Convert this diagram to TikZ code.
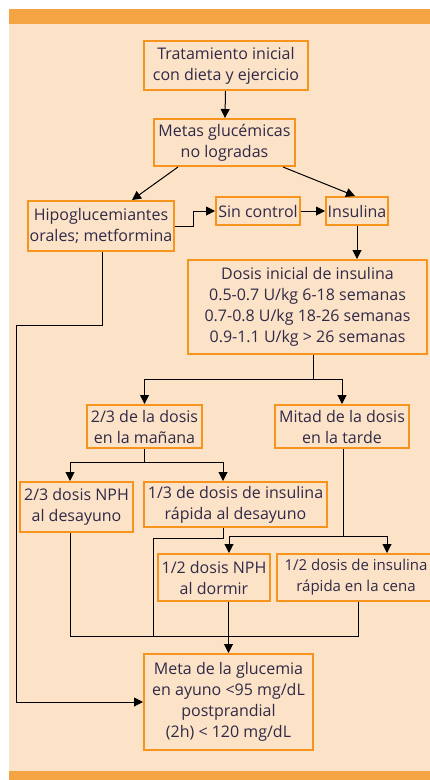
\documentclass[tikz,border=0pt]{standalone}
\usepackage{fontspec}
\setmainfont{Open Sans}
\usetikzlibrary{arrows.meta}
\definecolor{bandorange}{RGB}{245,164,67}
\definecolor{boxorange}{RGB}{247,148,29}
\definecolor{peach}{RGB}{252,227,200}
\definecolor{inktext}{RGB}{48,42,72}
\tikzstyle{stepbox} = [rectangle, draw=boxorange, line width=2pt, align=center, text=inktext, inner sep=0pt, font=\fontsize{16}{21}\selectfont]
\tikzstyle{arrow} = [line width=1pt, -{Triangle[width=9pt,length=9pt]}]
\tikzstyle{joint} = [line width=1pt]

\begin{document}
\begin{tikzpicture}[x=1pt, y=-1pt]
        % Background
        \useasboundingbox (0,0) rectangle (430,780);
        \fill[peach] (9,24) rectangle (430,771);
        \fill[bandorange] (9,9) rectangle (430,24);
        \fill[bandorange] (9,771) rectangle (430,780);

        % Nodes
        \node (trat) [stepbox, minimum width=164pt, minimum height=49pt] at (226,65.5) {Tratamiento inicial\\con dieta y ejercicio};
        \node (metas) [stepbox, minimum width=141pt, minimum height=47pt] at (224.5,142.5) {Metas glucémicas\\no logradas};
        \node (hipo) [stepbox, minimum width=146pt, minimum height=50pt] at (101,226) {Hipoglucemiantes\\orales; metformina};
        \node (sinc) [stepbox, minimum width=84pt, minimum height=28pt] at (258,211) {Sin control};
        \node (insul) [stepbox, minimum width=62pt, minimum height=28pt] at (357,211) {Insulina};
        \node (dosis) [stepbox, minimum width=239pt, minimum height=94pt] at (307.5,307) {Dosis inicial de insulina\\0.5-0.7 U/kg 6-18 semanas\\0.7-0.8 U/kg 18-26 semanas\\0.9-1.1 U/kg > 26 semanas};
        \node (manana) [stepbox, minimum width=115pt, minimum height=43pt] at (144.5,426.5) {2/3 de la dosis\\en la mañana};
        \node (tarde) [stepbox, minimum width=134pt, minimum height=43pt] at (342,426.5) {Mitad de la dosis\\en la tarde};
        \node (nphdes) [stepbox, minimum width=113pt, minimum height=50pt] at (76.5,507) {2/3 dosis NPH\\al desayuno};
        \node (rapdes) [stepbox, minimum width=183pt, minimum height=45pt] at (235.5,504.5) {1/3 de dosis de insulina\\rápida al desayuno};
        \node (nphdor) [stepbox, minimum width=112pt, minimum height=47pt] at (214,577.5) {1/2 dosis NPH\\al dormir};
        \node (rapcen) [stepbox, minimum width=158pt, minimum height=47pt, font=\fontsize{15}{21}\selectfont] at (356,577.5) {1/2 dosis de insulina\\rápida en la cena};
        \node (meta) [stepbox, minimum width=169pt, minimum height=96pt] at (228.5,702) {Meta de la glucemia\\en ayuno <95 mg/dL\\postprandial\\(2h) < 120 mg/dL};

        % Branch points
        \coordinate (splitdosis) at (313,379);
        \coordinate (splitman) at (144.5,462);
        \coordinate (splittar) at (343,536);
        \coordinate (joinleft) at (70,636);
        \coordinate (joinright) at (358,636);

        % Arrows
        \draw [arrow] (trat) -- (metas);
        \draw [arrow] ([xshift=-46.5pt]metas.south) -- ([xshift=31pt]hipo.north);
        \draw [arrow] ([xshift=58.5pt]metas.south) -- ([xshift=-2pt]insul.north);
        \draw [arrow] (hipo.east) -- ++(18,0) |- (sinc.west);
        \draw [arrow] (sinc) -- (insul);
        \draw [arrow] (insul.south) -- (insul.south |- dosis.north);
        \draw [joint] (splitdosis |- dosis.south) -- (splitdosis);
        \draw [arrow] (splitdosis) -| (manana.north);
        \draw [arrow] (splitdosis) -| (tarde.north);
        \draw [joint] (manana.south) -- (splitman);
        \draw [arrow] (splitman) -| ([xshift=-6.5pt]nphdes.north);
        \draw [arrow] (splitman) -| ([xshift=-12.5pt]rapdes.north);
        \draw [joint] (splittar |- tarde.south) -- (splittar);
        \draw [arrow] (splittar) -| ([xshift=15pt]nphdor.north);
        \draw [arrow] (splittar) -| ([xshift=31pt]rapcen.north);
        \draw [joint] (joinleft |- nphdes.south) -- (joinleft) -- (joinright) -- (joinright |- rapcen.south);
        \draw [joint] ([xshift=-12.5pt]rapdes.south) -- ++(0,10) -| (153,636);
        \draw [arrow] (meta.north |- nphdor.south) -- (meta.north);
        \draw [arrow] ([xshift=1pt]hipo.south) |- (16,325) |- (meta.west);
    \end{tikzpicture}
\end{document}
